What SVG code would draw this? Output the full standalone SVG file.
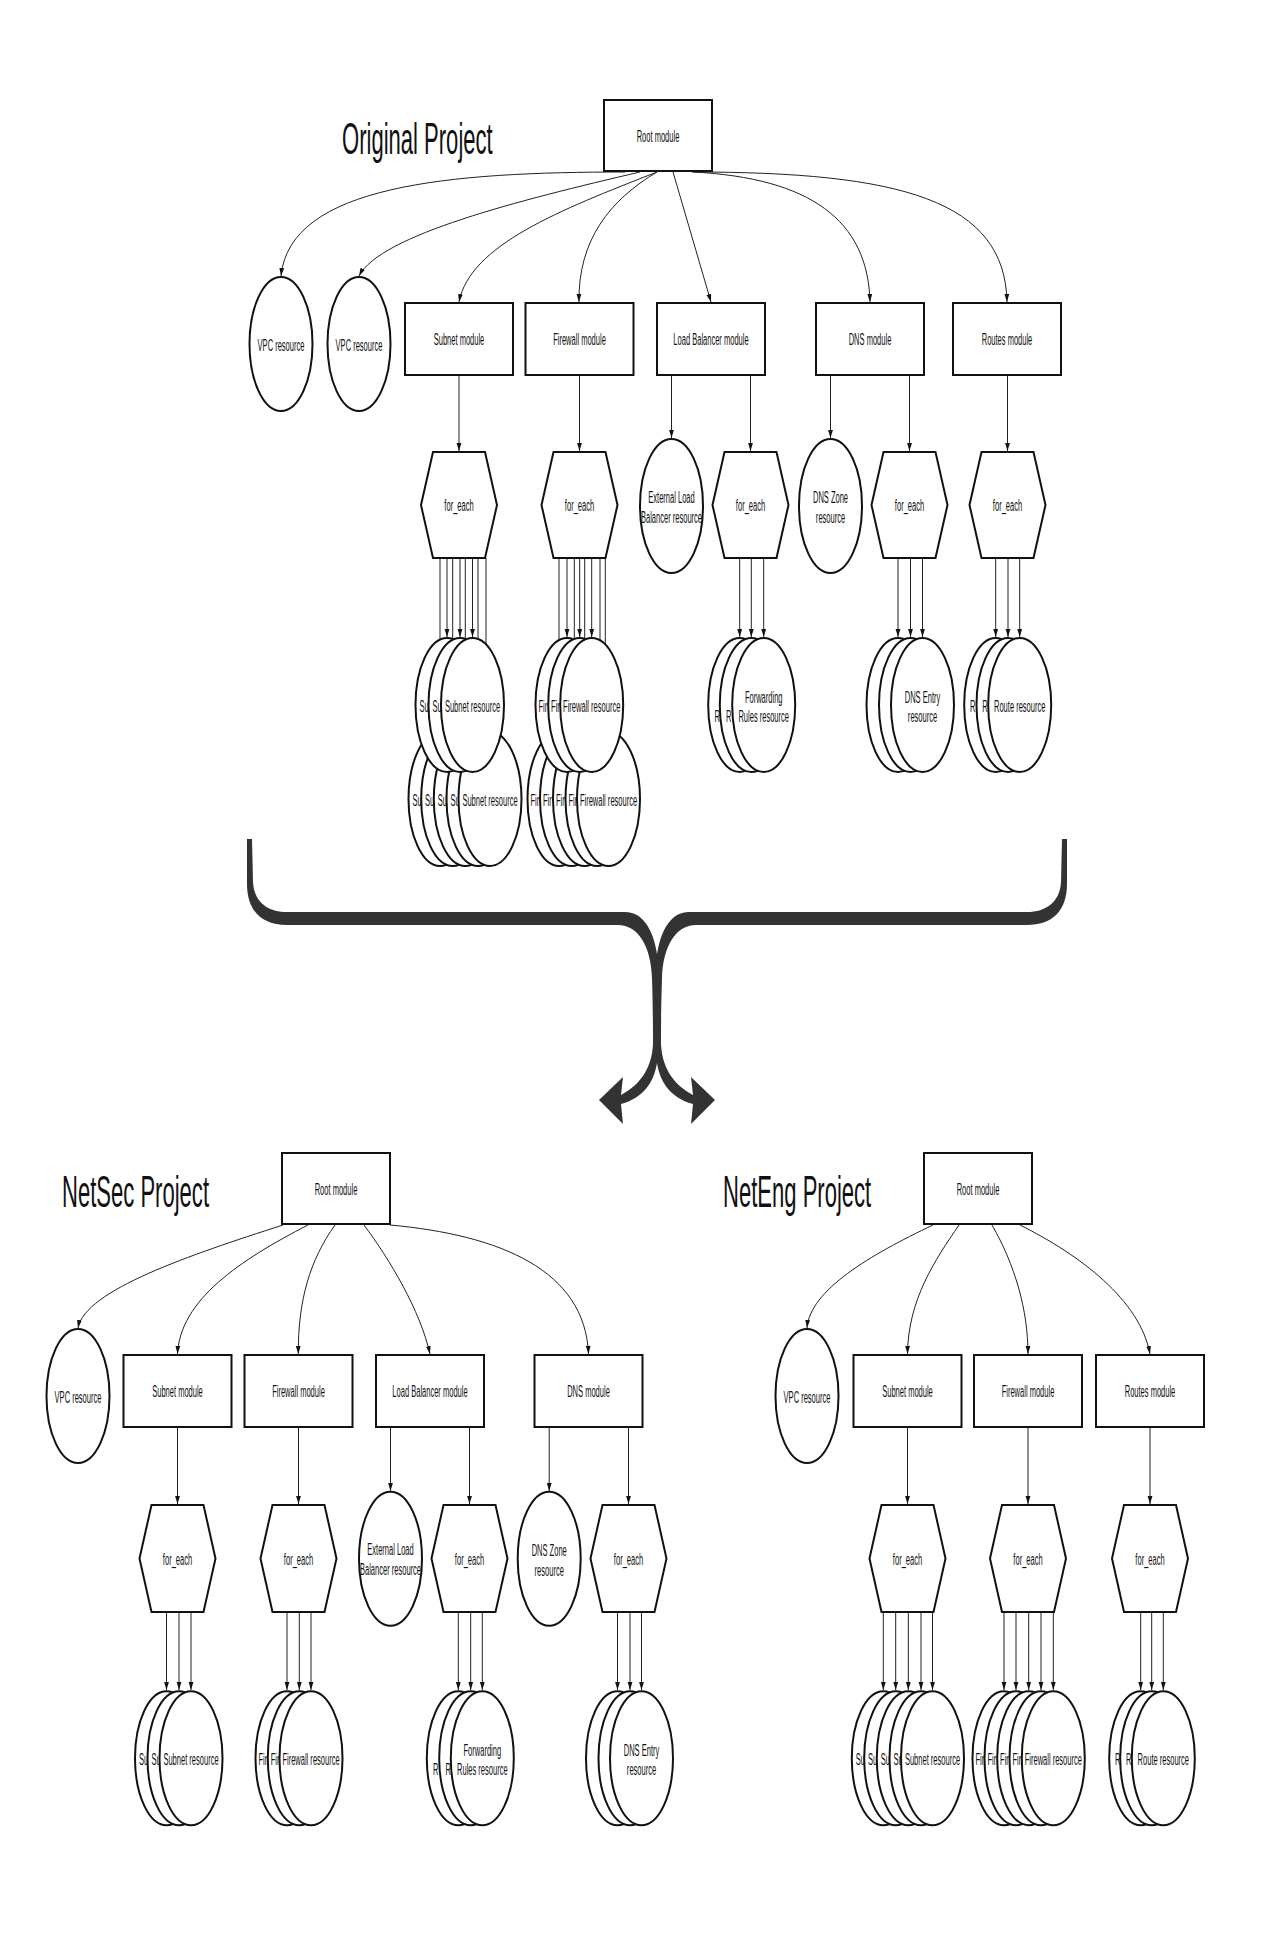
<svg xmlns="http://www.w3.org/2000/svg" width="1276" height="1942" viewBox="0 0 1276 1942">
<style>
.bg{fill:#fff}
.box,.ell,.hex{fill:#fff;stroke:#111;stroke-width:2}
.t{font-family:"Liberation Sans",Arial,sans-serif;font-size:16px;text-anchor:middle;fill:#111}
.ts{font-family:"Liberation Sans",Arial,sans-serif;font-size:16px;text-anchor:start;fill:#111}
.title{font-family:"Liberation Sans",Arial,sans-serif;font-size:45px;text-anchor:start;fill:#111}
.c{fill:none;stroke:#222;stroke-width:1;marker-end:url(#ah)}
.brace{fill:#333}
</style>
<defs>
<marker id="ah" markerUnits="userSpaceOnUse" markerWidth="9" markerHeight="6" refX="8" refY="3" orient="auto">
<path d="M0,0.6 L8,3 L0,5.4 Z" fill="#111"/>
</marker>
<path id="braceL" d="M247,839 L247,884 C247,911 262,925 287,925 L618,925 C638,925 651,946 652,978 C653,1010 653,1030 653,1044 C652,1066 642,1084 621,1095 L623,1077 L599,1100 L623,1124 L621,1104 C644,1098 658,1080 658,1050 L658,962 C655,932 644,912 625,912 L287,912 C268,912 254,902 253,882 L252,839 Z"/>
</defs>
<rect class="bg" x="0" y="0" width="1276" height="1942"/>

<text class="title" transform="translate(342,154) scale(0.49,1)">Original Project</text>
<text class="title" transform="translate(62,1207) scale(0.49,1)">NetSec Project</text>
<text class="title" transform="translate(723,1207) scale(0.49,1)">NetEng Project</text>

<g id="connectors">
<!-- original root -->
<path class="c" d="M625,172 C450,172 290,185 281,276"/>
<path class="c" d="M640,172 C520,200 380,235 359,276"/>
<path class="c" d="M657,172 C560,210 470,245 459,302"/>
<path class="c" d="M657,172 C610,200 578,240 579,302"/>
<path class="c" d="M673,172 L711,302"/>
<path class="c" d="M693,172 C810,178 868,220 870,302"/>
<path class="c" d="M692,172 C900,172 1005,200 1007,302"/>
<!-- modules to children -->
<path class="c" d="M459,375 L459,451"/>
<path class="c" d="M579.5,375 L579.5,451"/>
<path class="c" d="M671.5,375 L671.5,438"/>
<path class="c" d="M750.5,375 L750.5,451"/>
<path class="c" d="M830.5,375 L830.5,438"/>
<path class="c" d="M909.5,375 L909.5,451"/>
<path class="c" d="M1007.5,375 L1007.5,451"/>
<!-- subnet for_each -->
<path class="c" d="M440,558 L440,731"/>
<path class="c" d="M452.7,558 L452.7,731"/>
<path class="c" d="M465.3,558 L465.3,731"/>
<path class="c" d="M478,558 L478,731"/>
<path class="c" d="M486,558 L486,731"/>
<path class="c" d="M447,558 L447,637"/>
<path class="c" d="M460,558 L460,637"/>
<path class="c" d="M472.5,558 L472.5,637"/>
<!-- firewall for_each -->
<path class="c" d="M559,558 L559,731"/>
<path class="c" d="M574.3,558 L574.3,731"/>
<path class="c" d="M584.7,558 L584.7,731"/>
<path class="c" d="M600,558 L600,731"/>
<path class="c" d="M605.3,558 L605.3,731"/>
<path class="c" d="M567,558 L567,637"/>
<path class="c" d="M579.7,558 L579.7,637"/>
<path class="c" d="M591.7,558 L591.7,637"/>
<!-- LB for_each -->
<path class="c" d="M739.7,558 L739.7,637"/>
<path class="c" d="M751.3,558 L751.3,637"/>
<path class="c" d="M763.7,558 L763.7,637"/>
<!-- DNS for_each -->
<path class="c" d="M898,558 L898,637"/>
<path class="c" d="M910.5,558 L910.5,637"/>
<path class="c" d="M922.5,558 L922.5,637"/>
<!-- Routes for_each -->
<path class="c" d="M995.7,558 L995.7,637"/>
<path class="c" d="M1008,558 L1008,637"/>
<path class="c" d="M1019.7,558 L1019.7,637"/>

<!-- NetSec root -->
<path class="c" d="M283,1225 C190,1255 85,1290 78,1328"/>
<path class="c" d="M308,1225 C240,1260 180,1300 177.5,1354"/>
<path class="c" d="M335,1225 C310,1260 298,1300 298.3,1354"/>
<path class="c" d="M364,1225 C390,1260 420,1310 430,1354"/>
<path class="c" d="M390,1225 C500,1235 585,1270 588.5,1354"/>
<!-- NetEng root -->
<path class="c" d="M933,1225 C870,1255 810,1290 807,1328"/>
<path class="c" d="M959,1225 C935,1260 908,1300 907.5,1354"/>
<path class="c" d="M992,1225 C1015,1265 1028,1310 1028,1354"/>
<path class="c" d="M1020,1225 C1080,1255 1140,1300 1150,1354"/>
<!-- bottom modules to children -->
<path class="c" d="M177.5,1427 L177.5,1504"/>
<path class="c" d="M298.5,1427 L298.5,1504"/>
<path class="c" d="M390.5,1427 L390.5,1491"/>
<path class="c" d="M469.5,1427 L469.5,1504"/>
<path class="c" d="M549.2,1427 L549.2,1491"/>
<path class="c" d="M628.5,1427 L628.5,1504"/>
<path class="c" d="M907.5,1427 L907.5,1504"/>
<path class="c" d="M1028,1427 L1028,1504"/>
<path class="c" d="M1150,1427 L1150,1504"/>
<!-- bottom for_each to stacks -->
<path class="c" d="M166.5,1612 L166.5,1690"/>
<path class="c" d="M179,1612 L179,1690"/>
<path class="c" d="M191,1612 L191,1690"/>
<path class="c" d="M287,1612 L287,1690"/>
<path class="c" d="M299.3,1612 L299.3,1690"/>
<path class="c" d="M311,1612 L311,1690"/>
<path class="c" d="M458.3,1612 L458.3,1690"/>
<path class="c" d="M470.7,1612 L470.7,1690"/>
<path class="c" d="M482.3,1612 L482.3,1690"/>
<path class="c" d="M617.5,1612 L617.5,1690"/>
<path class="c" d="M630,1612 L630,1690"/>
<path class="c" d="M641.5,1612 L641.5,1690"/>
<path class="c" d="M883.3,1612 L883.3,1690"/>
<path class="c" d="M895.7,1612 L895.7,1690"/>
<path class="c" d="M908.3,1612 L908.3,1690"/>
<path class="c" d="M921,1612 L921,1690"/>
<path class="c" d="M932.5,1612 L932.5,1690"/>
<path class="c" d="M1004,1612 L1004,1690"/>
<path class="c" d="M1016,1612 L1016,1690"/>
<path class="c" d="M1028.7,1612 L1028.7,1690"/>
<path class="c" d="M1041,1612 L1041,1690"/>
<path class="c" d="M1053.3,1612 L1053.3,1690"/>
<path class="c" d="M1140.7,1612 L1140.7,1690"/>
<path class="c" d="M1151.7,1612 L1151.7,1690"/>
<path class="c" d="M1163.3,1612 L1163.3,1690"/>
</g>

<g id="brace">
<use href="#braceL" class="brace"/>
<use href="#braceL" class="brace" transform="translate(1314,0) scale(-1,1)"/>
</g>

<!-- ORIGINAL PROJECT -->
<g id="orig-root"><rect class="box" x="604" y="100" width="108" height="71"/><text class="t" transform="translate(658,141.5) scale(0.47,1)">Root module</text></g>
<g id="orig-vpc1"><ellipse class="ell" cx="281" cy="344" rx="31.5" ry="67"/><text class="t" transform="translate(281,350.5) scale(0.47,1)">VPC resource</text></g>
<g id="orig-vpc2"><ellipse class="ell" cx="359" cy="344" rx="31.5" ry="67"/><text class="t" transform="translate(359,350.5) scale(0.47,1)">VPC resource</text></g>
<g id="orig-subnet-mod"><rect class="box" x="405" y="303" width="108" height="72"/><text class="t" transform="translate(459,344.7) scale(0.47,1)">Subnet module</text></g>
<g id="orig-fw-mod"><rect class="box" x="525.5" y="303" width="108" height="72"/><text class="t" transform="translate(579.5,344.7) scale(0.47,1)">Firewall module</text></g>
<g id="orig-lb-mod"><rect class="box" x="657" y="303" width="108" height="72"/><text class="t" transform="translate(711,344.7) scale(0.47,1)">Load Balancer module</text></g>
<g id="orig-dns-mod"><rect class="box" x="816" y="303" width="108" height="72"/><text class="t" transform="translate(870,344.7) scale(0.47,1)">DNS module</text></g>
<g id="orig-routes-mod"><rect class="box" x="953" y="303" width="108" height="72"/><text class="t" transform="translate(1007,344.7) scale(0.47,1)">Routes module</text></g>

<g id="orig-subnet-fe"><polygon class="hex" points="433,452 485,452 497,505 485,558 433,558 421,505"/><text class="t" transform="translate(459,511) scale(0.47,1)">for_each</text></g>
<g id="orig-fw-fe"><polygon class="hex" points="553.5,452 605.5,452 617.5,505 605.5,558 553.5,558 541.5,505"/><text class="t" transform="translate(579.5,511) scale(0.47,1)">for_each</text></g>
<g id="orig-extlb"><ellipse class="ell" cx="671.5" cy="506" rx="31.5" ry="67"/><text class="t" transform="translate(671.5,502.5) scale(0.47,1)">External Load</text><text class="t" transform="translate(671.5,522.5) scale(0.47,1)">Balancer resource</text></g>
<g id="orig-lb-fe"><polygon class="hex" points="724.5,452 776.5,452 788.5,505 776.5,558 724.5,558 712.5,505"/><text class="t" transform="translate(750.5,511) scale(0.47,1)">for_each</text></g>
<g id="orig-dnszone"><ellipse class="ell" cx="830.5" cy="506" rx="31.5" ry="67"/><text class="t" transform="translate(830.5,503) scale(0.47,1)">DNS Zone</text><text class="t" transform="translate(830.5,523) scale(0.47,1)">resource</text></g>
<g id="orig-dns-fe"><polygon class="hex" points="883.5,452 935.5,452 947.5,505 935.5,558 883.5,558 871.5,505"/><text class="t" transform="translate(909.5,511) scale(0.47,1)">for_each</text></g>
<g id="orig-routes-fe"><polygon class="hex" points="981.5,452 1033.5,452 1045.5,505 1033.5,558 981.5,558 969.5,505"/><text class="t" transform="translate(1007.5,511) scale(0.47,1)">for_each</text></g>

<!-- subnet row 2 -->
<g id="orig-sub2-1"><ellipse class="ell" cx="440" cy="799" rx="31.5" ry="67"/><text class="ts" transform="translate(412.4,805.5) scale(0.47,1)">Su</text></g>
<g id="orig-sub2-2"><ellipse class="ell" cx="452.7" cy="799" rx="31.5" ry="67"/><text class="ts" transform="translate(425.1,805.5) scale(0.47,1)">Su</text></g>
<g id="orig-sub2-3"><ellipse class="ell" cx="465.3" cy="799" rx="31.5" ry="67"/><text class="ts" transform="translate(437.7,805.5) scale(0.47,1)">Su</text></g>
<g id="orig-sub2-4"><ellipse class="ell" cx="478" cy="799" rx="31.5" ry="67"/><text class="ts" transform="translate(450.4,805.5) scale(0.47,1)">Su</text></g>
<g id="orig-sub2-5"><ellipse class="ell" cx="490" cy="799" rx="31.5" ry="67"/><text class="t" transform="translate(490,805.5) scale(0.47,1)">Subnet resource</text></g>
<!-- firewall row 2 -->
<g id="orig-fw2-1"><ellipse class="ell" cx="559" cy="799" rx="31.5" ry="67"/><text class="ts" transform="translate(530.4,805.5) scale(0.47,1)">Fir</text></g>
<g id="orig-fw2-2"><ellipse class="ell" cx="571.5" cy="799" rx="31.5" ry="67"/><text class="ts" transform="translate(542.9,805.5) scale(0.47,1)">Fir</text></g>
<g id="orig-fw2-3"><ellipse class="ell" cx="584.5" cy="799" rx="31.5" ry="67"/><text class="ts" transform="translate(555.9,805.5) scale(0.47,1)">Fir</text></g>
<g id="orig-fw2-4"><ellipse class="ell" cx="597" cy="799" rx="31.5" ry="67"/><text class="ts" transform="translate(568.4,805.5) scale(0.47,1)">Fir</text></g>
<g id="orig-fw2-5"><ellipse class="ell" cx="608.5" cy="799" rx="31.5" ry="67"/><text class="t" transform="translate(608.5,805.5) scale(0.47,1)">Firewall resource</text></g>
<!-- subnet row 1 -->
<g id="orig-sub1-1"><ellipse class="ell" cx="447" cy="705" rx="31.5" ry="67"/><text class="ts" transform="translate(419.4,711.5) scale(0.47,1)">Su</text></g>
<g id="orig-sub1-2"><ellipse class="ell" cx="460" cy="705" rx="31.5" ry="67"/><text class="ts" transform="translate(432.4,711.5) scale(0.47,1)">Su</text></g>
<g id="orig-sub1-3"><ellipse class="ell" cx="472.5" cy="705" rx="31.5" ry="67"/><text class="t" transform="translate(472.5,711.5) scale(0.47,1)">Subnet resource</text></g>
<!-- firewall row 1 -->
<g id="orig-fw1-1"><ellipse class="ell" cx="567" cy="705" rx="31.5" ry="67"/><text class="ts" transform="translate(538.4,711.5) scale(0.47,1)">Fir</text></g>
<g id="orig-fw1-2"><ellipse class="ell" cx="579.7" cy="705" rx="31.5" ry="67"/><text class="ts" transform="translate(551.1,711.5) scale(0.47,1)">Fir</text></g>
<g id="orig-fw1-3"><ellipse class="ell" cx="591.7" cy="705" rx="31.5" ry="67"/><text class="t" transform="translate(591.7,711.5) scale(0.47,1)">Firewall resource</text></g>
<!-- forwarding -->
<g id="orig-fwd-1"><ellipse class="ell" cx="739.7" cy="705" rx="31.5" ry="67"/><text class="ts" transform="translate(714.4,722) scale(0.47,1)">R</text></g>
<g id="orig-fwd-2"><ellipse class="ell" cx="751.3" cy="705" rx="31.5" ry="67"/><text class="ts" transform="translate(726,722) scale(0.47,1)">R</text></g>
<g id="orig-fwd-3"><ellipse class="ell" cx="763.7" cy="705" rx="31.5" ry="67"/><text class="t" transform="translate(763.7,702.5) scale(0.47,1)">Forwarding</text><text class="t" transform="translate(763.7,722) scale(0.47,1)">Rules resource</text></g>
<!-- dns entry -->
<g id="orig-dnse-1"><ellipse class="ell" cx="898" cy="705" rx="31.5" ry="67"/></g>
<g id="orig-dnse-2"><ellipse class="ell" cx="910.5" cy="705" rx="31.5" ry="67"/></g>
<g id="orig-dnse-3"><ellipse class="ell" cx="922.5" cy="705" rx="31.5" ry="67"/><text class="t" transform="translate(922.5,703) scale(0.47,1)">DNS Entry</text><text class="t" transform="translate(922.5,722) scale(0.47,1)">resource</text></g>
<!-- routes -->
<g id="orig-route-1"><ellipse class="ell" cx="995.7" cy="705" rx="31.5" ry="67"/><text class="ts" transform="translate(970,711.5) scale(0.47,1)">R</text></g>
<g id="orig-route-2"><ellipse class="ell" cx="1008" cy="705" rx="31.5" ry="67"/><text class="ts" transform="translate(982.3,711.5) scale(0.47,1)">R</text></g>
<g id="orig-route-3"><ellipse class="ell" cx="1019.7" cy="705" rx="31.5" ry="67"/><text class="t" transform="translate(1019.7,711.5) scale(0.47,1)">Route resource</text></g>

<!-- NETSEC PROJECT -->
<g id="ns-root"><rect class="box" x="282" y="1153" width="108" height="71"/><text class="t" transform="translate(336,1194.5) scale(0.47,1)">Root module</text></g>
<g id="ns-vpc"><ellipse class="ell" cx="78" cy="1396" rx="31.5" ry="67"/><text class="t" transform="translate(78,1402.5) scale(0.47,1)">VPC resource</text></g>
<g id="ns-subnet-mod"><rect class="box" x="123.5" y="1355" width="108" height="72"/><text class="t" transform="translate(177.5,1396.7) scale(0.47,1)">Subnet module</text></g>
<g id="ns-fw-mod"><rect class="box" x="244.5" y="1355" width="108" height="72"/><text class="t" transform="translate(298.5,1396.7) scale(0.47,1)">Firewall module</text></g>
<g id="ns-lb-mod"><rect class="box" x="376" y="1355" width="108" height="72"/><text class="t" transform="translate(430,1396.7) scale(0.47,1)">Load Balancer module</text></g>
<g id="ns-dns-mod"><rect class="box" x="534.5" y="1355" width="108" height="72"/><text class="t" transform="translate(588.5,1396.7) scale(0.47,1)">DNS module</text></g>
<g id="ns-subnet-fe"><polygon class="hex" points="151.5,1505 203.5,1505 215.5,1558.5 203.5,1612 151.5,1612 139.5,1558.5"/><text class="t" transform="translate(177.5,1564.5) scale(0.47,1)">for_each</text></g>
<g id="ns-fw-fe"><polygon class="hex" points="272.5,1505 324.5,1505 336.5,1558.5 324.5,1612 272.5,1612 260.5,1558.5"/><text class="t" transform="translate(298.5,1564.5) scale(0.47,1)">for_each</text></g>
<g id="ns-extlb"><ellipse class="ell" cx="390.5" cy="1558.7" rx="31.5" ry="67"/><text class="t" transform="translate(390.5,1555) scale(0.47,1)">External Load</text><text class="t" transform="translate(390.5,1575) scale(0.47,1)">Balancer resource</text></g>
<g id="ns-lb-fe"><polygon class="hex" points="443.5,1505 495.5,1505 507.5,1558.5 495.5,1612 443.5,1612 431.5,1558.5"/><text class="t" transform="translate(469.5,1564.5) scale(0.47,1)">for_each</text></g>
<g id="ns-dnszone"><ellipse class="ell" cx="549.2" cy="1558.7" rx="31.5" ry="67"/><text class="t" transform="translate(549.2,1555.5) scale(0.47,1)">DNS Zone</text><text class="t" transform="translate(549.2,1575.5) scale(0.47,1)">resource</text></g>
<g id="ns-dns-fe"><polygon class="hex" points="602.5,1505 654.5,1505 666.5,1558.5 654.5,1612 602.5,1612 590.5,1558.5"/><text class="t" transform="translate(628.5,1564.5) scale(0.47,1)">for_each</text></g>
<g id="ns-sub-1"><ellipse class="ell" cx="166.5" cy="1758.2" rx="31.5" ry="67"/><text class="ts" transform="translate(138.9,1764.7) scale(0.47,1)">Su</text></g>
<g id="ns-sub-2"><ellipse class="ell" cx="179" cy="1758.2" rx="31.5" ry="67"/><text class="ts" transform="translate(151.4,1764.7) scale(0.47,1)">Su</text></g>
<g id="ns-sub-3"><ellipse class="ell" cx="191" cy="1758.2" rx="31.5" ry="67"/><text class="t" transform="translate(191,1764.7) scale(0.47,1)">Subnet resource</text></g>
<g id="ns-fw-1"><ellipse class="ell" cx="287" cy="1758.2" rx="31.5" ry="67"/><text class="ts" transform="translate(258.4,1764.7) scale(0.47,1)">Fir</text></g>
<g id="ns-fw-2"><ellipse class="ell" cx="299.3" cy="1758.2" rx="31.5" ry="67"/><text class="ts" transform="translate(270.7,1764.7) scale(0.47,1)">Fir</text></g>
<g id="ns-fw-3"><ellipse class="ell" cx="311" cy="1758.2" rx="31.5" ry="67"/><text class="t" transform="translate(311,1764.7) scale(0.47,1)">Firewall resource</text></g>
<g id="ns-fwd-1"><ellipse class="ell" cx="458.3" cy="1758.2" rx="31.5" ry="67"/><text class="ts" transform="translate(433,1775.2) scale(0.47,1)">R</text></g>
<g id="ns-fwd-2"><ellipse class="ell" cx="470.7" cy="1758.2" rx="31.5" ry="67"/><text class="ts" transform="translate(445.4,1775.2) scale(0.47,1)">R</text></g>
<g id="ns-fwd-3"><ellipse class="ell" cx="482.3" cy="1758.2" rx="31.5" ry="67"/><text class="t" transform="translate(482.3,1755.7) scale(0.47,1)">Forwarding</text><text class="t" transform="translate(482.3,1775.2) scale(0.47,1)">Rules resource</text></g>
<g id="ns-dnse-1"><ellipse class="ell" cx="617.5" cy="1758.2" rx="31.5" ry="67"/></g>
<g id="ns-dnse-2"><ellipse class="ell" cx="630" cy="1758.2" rx="31.5" ry="67"/></g>
<g id="ns-dnse-3"><ellipse class="ell" cx="641.5" cy="1758.2" rx="31.5" ry="67"/><text class="t" transform="translate(641.5,1756) scale(0.47,1)">DNS Entry</text><text class="t" transform="translate(641.5,1775.2) scale(0.47,1)">resource</text></g>

<!-- NETENG PROJECT -->
<g id="ne-root"><rect class="box" x="924" y="1153" width="108" height="71"/><text class="t" transform="translate(978,1194.5) scale(0.47,1)">Root module</text></g>
<g id="ne-vpc"><ellipse class="ell" cx="807" cy="1396" rx="31.5" ry="67"/><text class="t" transform="translate(807,1402.5) scale(0.47,1)">VPC resource</text></g>
<g id="ne-subnet-mod"><rect class="box" x="853.5" y="1355" width="108" height="72"/><text class="t" transform="translate(907.5,1396.7) scale(0.47,1)">Subnet module</text></g>
<g id="ne-fw-mod"><rect class="box" x="974" y="1355" width="108" height="72"/><text class="t" transform="translate(1028,1396.7) scale(0.47,1)">Firewall module</text></g>
<g id="ne-routes-mod"><rect class="box" x="1096" y="1355" width="108" height="72"/><text class="t" transform="translate(1150,1396.7) scale(0.47,1)">Routes module</text></g>
<g id="ne-subnet-fe"><polygon class="hex" points="881.5,1505 933.5,1505 945.5,1558.5 933.5,1612 881.5,1612 869.5,1558.5"/><text class="t" transform="translate(907.5,1564.5) scale(0.47,1)">for_each</text></g>
<g id="ne-fw-fe"><polygon class="hex" points="1002,1505 1054,1505 1066,1558.5 1054,1612 1002,1612 990,1558.5"/><text class="t" transform="translate(1028,1564.5) scale(0.47,1)">for_each</text></g>
<g id="ne-routes-fe"><polygon class="hex" points="1124,1505 1176,1505 1188,1558.5 1176,1612 1124,1612 1112,1558.5"/><text class="t" transform="translate(1150,1564.5) scale(0.47,1)">for_each</text></g>
<g id="ne-sub-1"><ellipse class="ell" cx="883.3" cy="1758.2" rx="31.5" ry="67"/><text class="ts" transform="translate(855.7,1764.7) scale(0.47,1)">Su</text></g>
<g id="ne-sub-2"><ellipse class="ell" cx="895.7" cy="1758.2" rx="31.5" ry="67"/><text class="ts" transform="translate(868.1,1764.7) scale(0.47,1)">Su</text></g>
<g id="ne-sub-3"><ellipse class="ell" cx="908.3" cy="1758.2" rx="31.5" ry="67"/><text class="ts" transform="translate(880.7,1764.7) scale(0.47,1)">Su</text></g>
<g id="ne-sub-4"><ellipse class="ell" cx="921" cy="1758.2" rx="31.5" ry="67"/><text class="ts" transform="translate(893.4,1764.7) scale(0.47,1)">Su</text></g>
<g id="ne-sub-5"><ellipse class="ell" cx="932.5" cy="1758.2" rx="31.5" ry="67"/><text class="t" transform="translate(932.5,1764.7) scale(0.47,1)">Subnet resource</text></g>
<g id="ne-fw-1"><ellipse class="ell" cx="1004" cy="1758.2" rx="31.5" ry="67"/><text class="ts" transform="translate(975.4,1764.7) scale(0.47,1)">Fir</text></g>
<g id="ne-fw-2"><ellipse class="ell" cx="1016" cy="1758.2" rx="31.5" ry="67"/><text class="ts" transform="translate(987.4,1764.7) scale(0.47,1)">Fir</text></g>
<g id="ne-fw-3"><ellipse class="ell" cx="1028.7" cy="1758.2" rx="31.5" ry="67"/><text class="ts" transform="translate(1000.1,1764.7) scale(0.47,1)">Fir</text></g>
<g id="ne-fw-4"><ellipse class="ell" cx="1041" cy="1758.2" rx="31.5" ry="67"/><text class="ts" transform="translate(1012.4,1764.7) scale(0.47,1)">Fir</text></g>
<g id="ne-fw-5"><ellipse class="ell" cx="1053.3" cy="1758.2" rx="31.5" ry="67"/><text class="t" transform="translate(1053.3,1764.7) scale(0.47,1)">Firewall resource</text></g>
<g id="ne-route-1"><ellipse class="ell" cx="1140.7" cy="1758.2" rx="31.5" ry="67"/><text class="ts" transform="translate(1115,1764.7) scale(0.47,1)">R</text></g>
<g id="ne-route-2"><ellipse class="ell" cx="1151.7" cy="1758.2" rx="31.5" ry="67"/><text class="ts" transform="translate(1126,1764.7) scale(0.47,1)">R</text></g>
<g id="ne-route-3"><ellipse class="ell" cx="1163.3" cy="1758.2" rx="31.5" ry="67"/><text class="t" transform="translate(1163.3,1764.7) scale(0.47,1)">Route resource</text></g>
</svg>
